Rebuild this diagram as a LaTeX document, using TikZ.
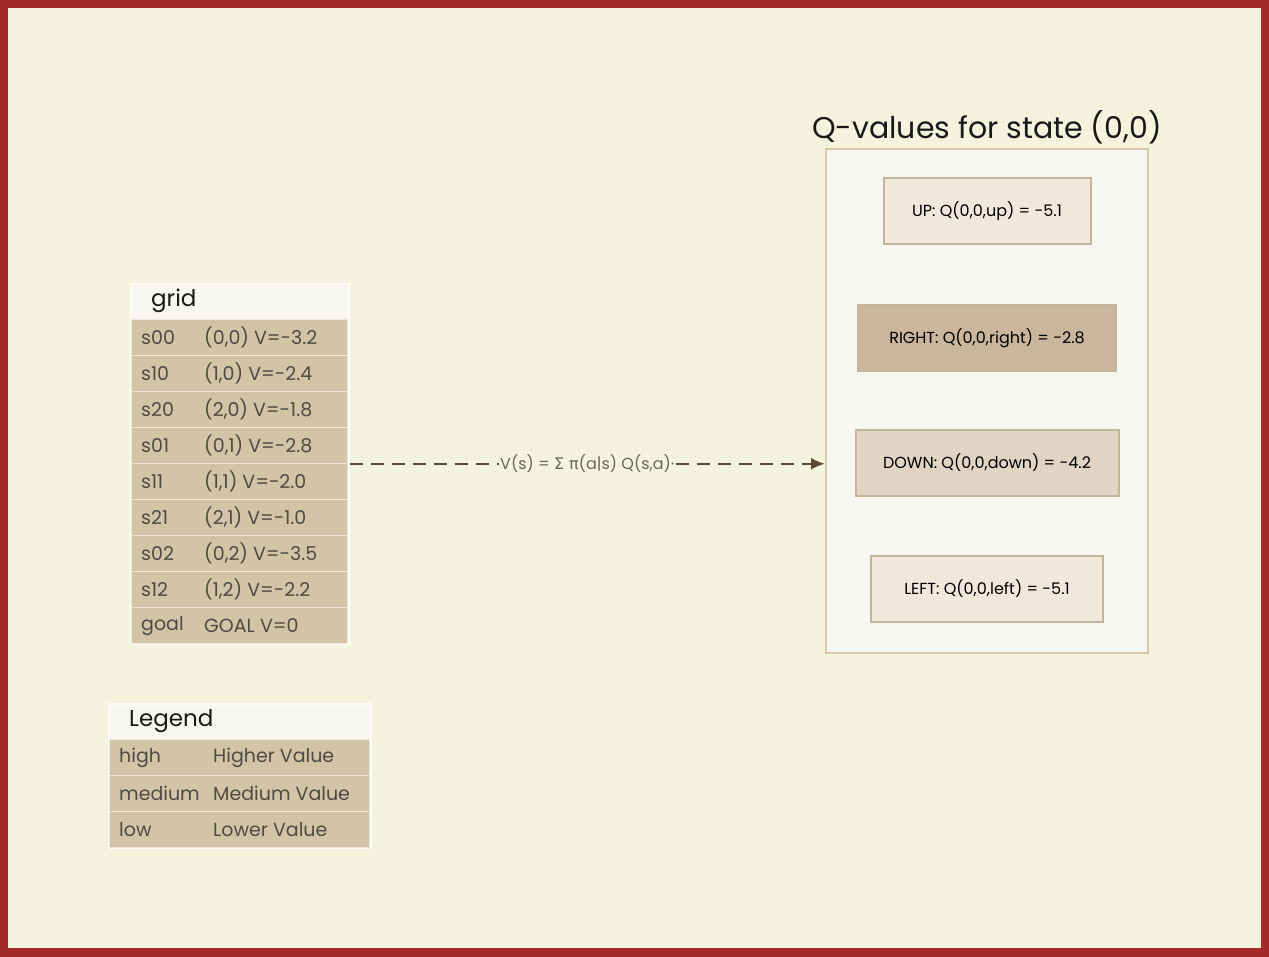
\documentclass[tikz,border=0pt]{standalone}
\usepackage{fontspec}
\setmainfont{Poppins}
\newfontfamily\greekfont{DejaVu Sans}
\usepackage{tikz}
\usetikzlibrary{arrows.meta,positioning,patterns.meta}
\definecolor{frame}{HTML}{A52A2A}
\definecolor{paper}{HTML}{F4F4DE}
\definecolor{paperdot}{HTML}{DDDDC2}
\definecolor{headfill}{HTML}{F8F6F0}
\definecolor{rowtan}{HTML}{D3C4A8}
\definecolor{rowline}{HTML}{EDE5D5}
\definecolor{rowink}{HTML}{4F4A42}
\definecolor{panelfill}{HTML}{F8F6F1}
\definecolor{paneledge}{HTML}{D9C9A9}
\definecolor{lowq}{HTML}{F2E7DB}
\definecolor{midq}{HTML}{E1D4C2}
\definecolor{highq}{HTML}{C9B69C}
\definecolor{flowink}{HTML}{5C4A33}
\definecolor{labelink}{HTML}{6B675E}

\tikzdeclarepattern{
  name=bgdots,
  type=uncolored,
  bottom left={(0pt,0pt)},
  top right={(8pt,8pt)},
  tile size={(8pt,8pt)},
  code={\pgfpathcircle{\pgfpoint{4pt}{4pt}}{0.7pt}\pgfusepath{fill}}
}

\begin{document}
\begin{tikzpicture}[x=1pt, y=-1pt,
    tablebox/.style={rectangle, fill=headfill, draw=white!70!headfill, line width=1.5pt,
      inner sep=0pt, anchor=north west},
    tablerow/.style={rectangle, fill=rowtan, draw=rowline, line width=1.2pt,
      minimum height=36pt, inner sep=0pt, anchor=north west},
    headtext/.style={anchor=west, inner sep=0pt, text=black!90,
      font=\fontsize{23pt}{26pt}\selectfont},
    celltext/.style={anchor=west, inner sep=0pt, text=rowink,
      font=\fontsize{19pt}{22pt}\selectfont},
    qpanel/.style={rectangle, fill=panelfill, draw=paneledge, line width=2pt, inner sep=0pt},
    qaction/.style={rectangle, draw=paneledge!90!black, line width=2pt, inner sep=0pt,
      minimum height=66pt, text=black, font=\fontsize{16pt}{18pt}\selectfont},
    flowdash/.style={draw=flowink, line width=2.4pt, dash pattern=on 13pt off 8pt},
    flow/.style={flowdash, -{Latex[length=14pt,width=12pt]}},
    flowlabel/.style={inner xsep=1pt, inner ysep=1pt, text=labelink,
      font=\fontsize{16pt}{18pt}\selectfont}]
    \useasboundingbox (0,0) rectangle (1269,957);

    % Paper and frame
    \fill[frame] (0,0) rectangle (1269,957);
    \fill[paper] (8,8) rectangle (1261,948);
    \fill[pattern={bgdots}, pattern color=paperdot] (8,8) rectangle (1261,948);

    % grid table
    \node[tablebox, minimum width=218pt, minimum height=360pt] (grid) at (130,283) {};
    \node[headtext] (gridhead) at (151,301) {grid};
    \foreach \sid/\sval [count=\i from 0] in {s00/{(0,0) V=-3.2}, s10/{(1,0) V=-2.4},
        s20/{(2,0) V=-1.8}, s01/{(0,1) V=-2.8}, s11/{(1,1) V=-2.0}, s21/{(2,1) V=-1.0},
        s02/{(0,2) V=-3.5}, s12/{(1,2) V=-2.2}, goal/{GOAL V=0}} {
      \node[tablerow, minimum width=216pt] (row\i) at (131,{319+36*\i}) {};
      \node[celltext] at ([xshift=10pt]row\i.west) {\sid};
      \node[celltext] at ([xshift=73pt]row\i.west) {\sval};
    }

    % Legend table
    \node[tablebox, minimum width=262pt, minimum height=144pt] (legend) at (108,703) {};
    \node[headtext] (legendhead) at (129,721) {Legend};
    \foreach \lkey/\lval [count=\i from 0] in {high/Higher Value, medium/Medium Value,
        low/Lower Value} {
      \node[tablerow, minimum width=260pt] (lrow\i) at (109,{739+36*\i}) {};
      \node[celltext] at ([xshift=10pt]lrow\i.west) {\lkey};
      \node[celltext] at ([xshift=104pt]lrow\i.west) {\lval};
    }

    % Q-values panel
    \node[qpanel, minimum width=322pt, minimum height=504pt] (qbox) at (987,401) {};
    \node[above=4pt of qbox, inner sep=0pt, text=black!90,
          font=\fontsize{30pt}{33pt}\selectfont] (qtitle) {Q-values for state (0,0)};
    \node[qaction, fill=lowq, minimum width=207pt] (qup) at (987,211) {UP: Q(0,0,up) = -5.1};
    \node[qaction, fill=highq, minimum width=258pt] (qright) at (987,338) {RIGHT: Q(0,0,right) = -2.8};
    \node[qaction, fill=midq, minimum width=263pt] (qdown) at (987,463) {DOWN: Q(0,0,down) = -4.2};
    \node[qaction, fill=lowq, minimum width=232pt] (qleft) at (987,589) {LEFT: Q(0,0,left) = -5.1};

    % Value to Q link
    \path (grid.east) -- node[flowlabel] (vlabel)
      {V(s) = {\greekfont Σ π}(a|s) Q(s,a)·} (grid.east -| qbox.west);
    \draw[flowdash] (grid.east) -- (vlabel.west);
    \draw[flow] (vlabel.east) -- (grid.east -| qbox.west);
\end{tikzpicture}
\end{document}
